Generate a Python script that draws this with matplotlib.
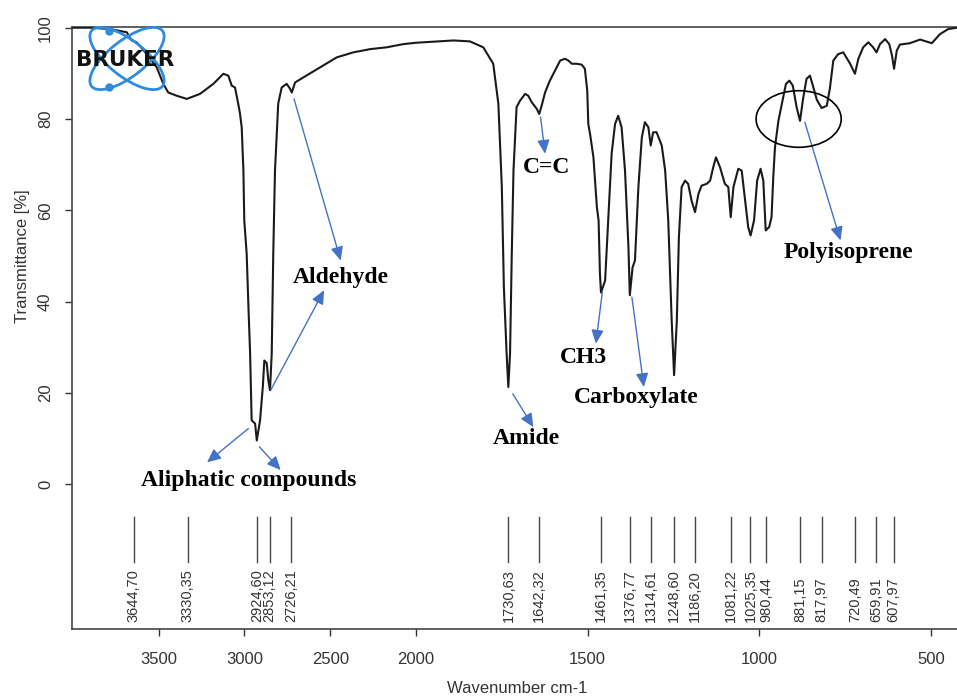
import numpy as np
import matplotlib.pyplot as plt
from matplotlib.patches import Ellipse

# FTIR spectrum, read as (wavenumber cm-1, transmittance %)
wavenumber = [
    3997, 3900, 3783, 3686, 3657, 3628, 3569, 3511, 3473, 3444, 3395, 3336,
    3259, 3181, 3123, 3094, 3074, 3055, 3036, 3026, 3016, 3006, 3001, 2987,
    2976, 2967, 2958, 2938, 2928, 2909, 2893, 2884, 2870, 2861, 2851, 2841,
    2832, 2822, 2803, 2783, 2754, 2734, 2724, 2705, 2657, 2559, 2462, 2365,
    2268, 2171, 2074, 2000, 1891, 1843, 1804, 1775, 1760, 1750, 1744, 1736,
    1731, 1726, 1721, 1716, 1707, 1697, 1682, 1673, 1663, 1648, 1641, 1634,
    1624, 1610, 1595, 1580, 1566, 1556, 1546, 1532, 1517, 1508, 1501, 1498,
    1493, 1483, 1473, 1468, 1464, 1461, 1449, 1440, 1430, 1420, 1411, 1401,
    1391, 1381, 1377, 1369, 1362, 1352, 1342, 1333, 1323, 1316, 1309, 1299,
    1284, 1274, 1265, 1255, 1248, 1240, 1234, 1226, 1216, 1207, 1197, 1187,
    1177, 1168, 1153, 1143, 1134, 1126, 1114, 1100, 1090, 1083, 1075, 1061,
    1051, 1041, 1032, 1025, 1015, 1006, 996, 988, 981, 976, 971, 964, 959,
    954, 944, 934, 922, 912, 902, 891, 881, 872, 862, 852, 842, 832, 818,
    803, 794, 784, 770, 755, 735, 721, 711, 697, 682, 668, 658, 648, 633,
    621, 613, 607, 599, 590, 561, 531, 497, 473, 449, 424,
]
transmittance = [
    100.0, 100.0, 99.7, 99.0, 97.2, 96.8, 94.2, 91.3, 87.7, 85.8, 85.1, 84.4,
    85.5, 87.7, 89.9, 89.5, 87.3, 86.9, 83.3, 81.2, 78.2, 68.7, 57.8, 50.5,
    38.1, 28.7, 14.0, 13.3, 9.6, 14.0, 21.3, 27.1, 26.5, 22.8, 20.6, 28.7,
    50.5, 68.7, 83.4, 86.9, 87.7, 86.6, 85.8, 88.0, 89.1, 91.3, 93.5, 94.6,
    95.3, 95.7, 96.4, 96.7, 97.2, 97.0, 95.7, 92.1, 83.3, 65.1, 43.2, 28.6,
    21.3, 28.7, 50.5, 68.7, 82.6, 84.0, 85.5, 85.1, 83.7, 82.2, 81.1, 82.9,
    85.8, 88.4, 90.6, 92.8, 93.2, 92.8, 92.1, 92.1, 91.9, 91.0, 86.2, 78.9,
    76.8, 71.6, 60.7, 57.8, 46.0, 42.0, 44.6, 57.8, 72.4, 78.9, 80.7, 78.2,
    68.7, 51.9, 41.4, 47.5, 49.0, 65.1, 76.0, 79.3, 78.2, 74.2, 77.1, 77.1,
    74.2, 68.7, 57.8, 35.9, 23.9, 35.9, 54.1, 65.1, 66.5, 65.8, 62.1, 59.6,
    63.6, 65.4, 65.8, 66.5, 69.4, 71.6, 69.4, 65.8, 65.1, 58.5, 65.1, 69.1,
    68.7, 62.1, 56.3, 54.5, 57.8, 66.5, 69.1, 66.5, 55.6, 56.0, 56.3, 58.5, 67.2,
    73.8, 79.6, 83.3, 87.7, 88.4, 87.3, 82.6, 79.6, 84.5, 88.8, 89.5, 86.9, 84.2, 82.4,
    82.9, 86.7, 92.8, 94.2, 94.6, 92.1, 89.9, 93.2, 95.7, 96.8, 95.7, 94.6, 96.4, 97.5,
    96.4, 93.9, 91.0, 95.0, 96.3, 96.6, 97.4, 96.6, 98.6, 99.7, 100.0,
]

# picked peaks (cm-1)
peaks = [3644.70, 3330.35, 2924.60, 2853.12, 2726.21, 1730.63, 1642.32,
         1461.35, 1376.77, 1314.61, 1248.60, 1186.20, 1081.22, 1025.35,
         980.44, 881.15, 817.97, 720.49, 659.91, 607.97]

x_ticks = [3500, 3000, 2500, 2000, 1500, 1000, 500]
y_ticks = [0, 20, 40, 60, 80, 100]

# band assignments: label, text position (wn, T)
bands = ["Aliphatic compounds", "Aldehyde", "Amide", "C=C", "CH3",
         "Carboxylate", "Polyisoprene"]
band_wn = [2973, 2437, 1679, 1620, 1513, 1358, 739]
band_t = [0.9, 45.3, 10.1, 69.4, 27.7, 18.9, 50.8]

# arrows: tail (wn, T) -> head (wn, T)
arrow_tail = [(2977, 12.2), (2913, 8.2), (2711, 84.4), (2847, 20.6),
              (1718, 19.8), (1637, 80.4), (1457, 42.1), (1371, 41.0),
              (867, 79.3)]
arrow_head = [(3218, 4.8), (2789, 3.1), (2439, 49.0), (2536, 42.5),
              (1658, 12.5), (1624, 72.4), (1476, 30.8), (1336, 21.3),
              (763, 53.4)]

BLUE = "#4472C4"
GREY = "#333333"

plt.rcParams["font.family"] = ["Liberation Sans", "DejaVu Sans"]


# half-scale above 2000 cm-1, as on the instrument printout
def fwd(w):
    w = np.asarray(w, dtype=float)
    return np.where(w > 2000, 2000 + (w - 2000) / 2, w)


def inv(u):
    u = np.asarray(u, dtype=float)
    return np.where(u > 2000, 2000 + (u - 2000) * 2, u)


fig = plt.figure(figsize=(9.57, 6.97), dpi=100)
ax = fig.add_axes([72 / 957, 1 - 629 / 697, 890 / 957, 602 / 697])
ax.set_xscale("function", functions=(fwd, inv))
ax.set_xlim(4005, 409)
ax.set_ylim(-31.7, 100.15)

ax.plot(wavenumber, transmittance, color="#1a1a1a", lw=1.5, zorder=3)

# peak picks below the baseline
for p in peaks:
    ax.plot([p, p], [-7.2, -17.1], color="#444444", lw=1.0)
    ax.text(p, -30.2, f"{p:.2f}".replace(".", ","), rotation=90,
            ha="center", va="bottom", fontsize=10.5, color=GREY)

for (tw, tt), (hw, ht) in zip(arrow_tail, arrow_head):
    ax.annotate("", xy=(hw, ht), xytext=(tw, tt),
                arrowprops=dict(arrowstyle="-|>,head_length=0.55,head_width=0.25",
                                color=BLUE, lw=1.0, shrinkA=0, shrinkB=0,
                                mutation_scale=15))

for name, w, t in zip(bands, band_wn, band_t):
    ax.text(w, t, name, ha="center", va="center", fontsize=17,
            fontweight="bold", family="Liberation Serif", color="black")

ax.add_patch(Ellipse((885, 80.0), 248, 12.4, fill=False,
                     edgecolor="black", lw=1.2, zorder=4))

ax.set_xticks(x_ticks)
ax.set_xticklabels([str(v) for v in x_ticks])
ax.set_yticks(y_ticks)
ax.tick_params(axis="both", direction="out", length=5, width=1,
               color=GREY, labelcolor=GREY, labelsize=12)
ax.tick_params(axis="x", pad=11.5)
ax.tick_params(axis="y", pad=8.6, labelrotation=90)
for lab in ax.get_yticklabels():
    lab.set_va("center")
for s in ax.spines.values():
    s.set_color("#444444")
    s.set_linewidth(1.2)

ax.set_xlabel("Wavenumber cm-1", fontsize=12, color=GREY, labelpad=10)
ax.set_ylabel("Transmittance [%]", fontsize=12, color=GREY)
ax.yaxis.set_label_coords(-0.0555, 0.62)
ax.yaxis.label.set_va("center")

# vendor logo in the top-left corner (pixel-like coordinates)
logo = fig.add_axes([70 / 957, 1 - 95 / 697, 110 / 957, 70 / 697])
logo.set_xlim(70, 180)
logo.set_ylim(95, 25)
logo.axis("off")
logo.patch.set_alpha(0)
for ang in (38, -38):
    logo.add_patch(Ellipse((127, 58.5), 90, 36, angle=ang, fill=False,
                           edgecolor="#2d8be0", lw=2.0))
logo.plot([109, 109], [31, 87], "o", color="#2d8be0", ms=5, ls="none")
logo.text(125, 60, "BRUKER", ha="center", va="center", fontsize=15.5,
          fontweight="heavy", family="DejaVu Sans", color="#111111")

fig.savefig("out.png", dpi=100)
